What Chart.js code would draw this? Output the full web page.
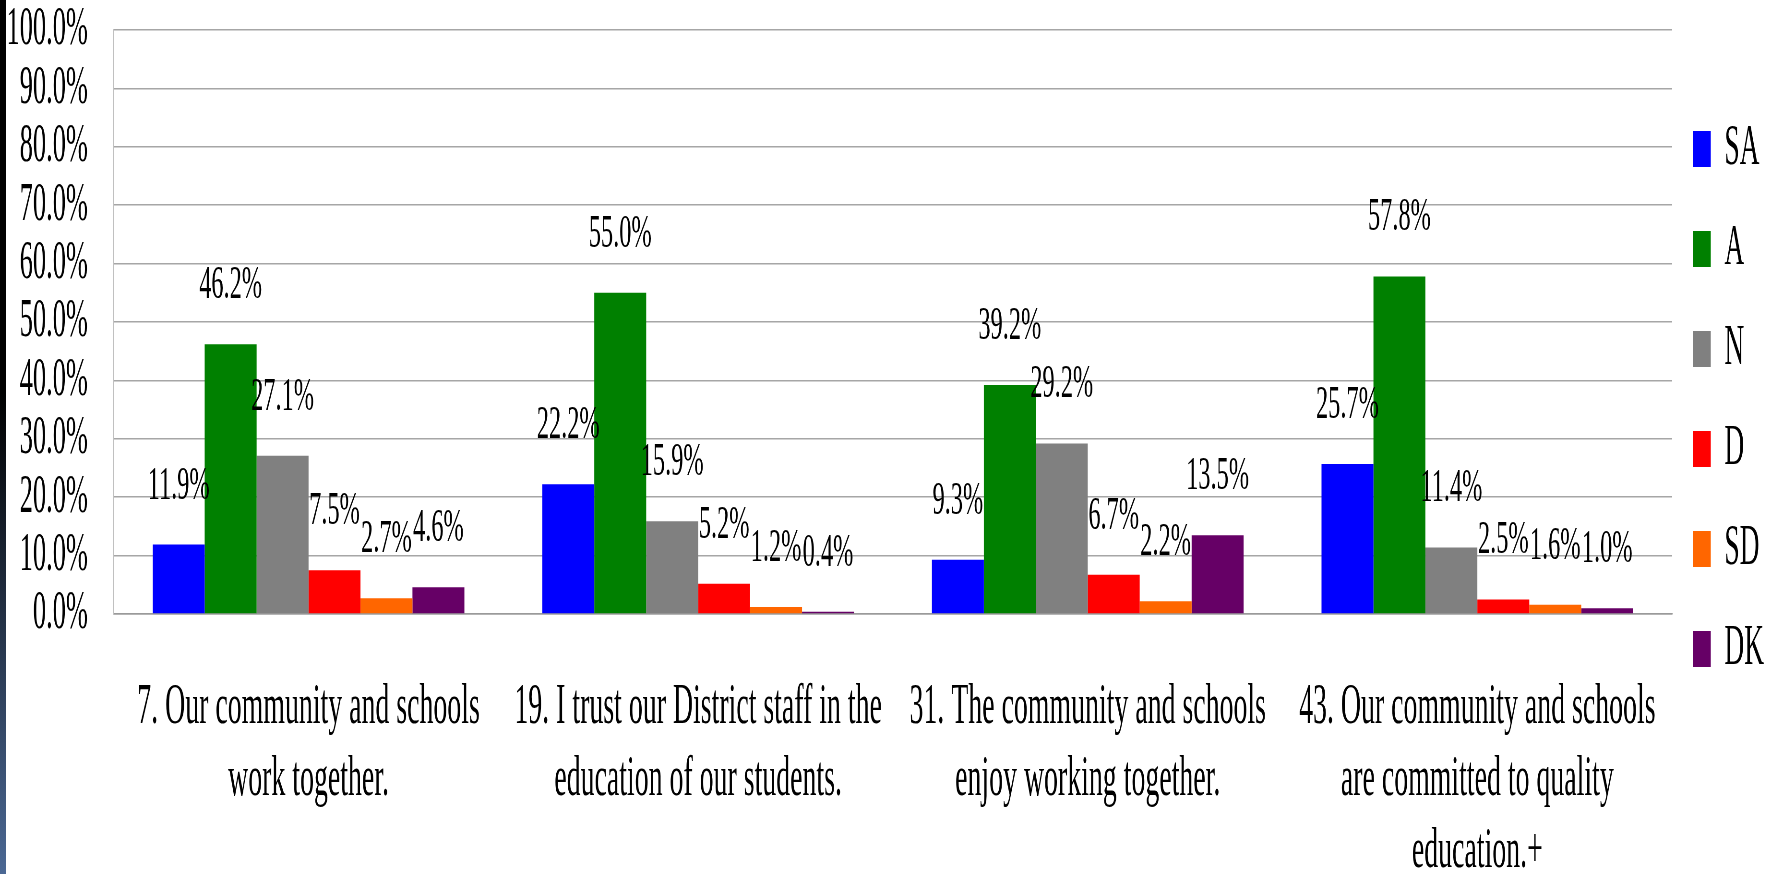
<!DOCTYPE html>
<html>
<head>
<meta charset="utf-8">
<title>Community and schools</title>
<script src="https://cdn.jsdelivr.net/npm/chart.js@4.4.1/dist/chart.umd.min.js"></script>
<style>
  html, body { margin: 0; padding: 0; background: #fff; overflow: hidden; }
  #wrap { position: relative; width: 1771px; height: 874px; }
  #faixa {
    position: absolute; left: 0; top: 0; width: 6px; height: 874px; z-index: 2;
    background: linear-gradient(#000 0%, #000 45%, #4b6894 100%);
  }
  /* canvas drawn wide and squeezed to get the condensed serif look */
  #grafico { position: absolute; left: 0; top: 0; width: 1771px; height: 874px; }
</style>
</head>
<body>
<div id="wrap">
  <div id="faixa"></div>
  <canvas id="grafico" width="3690" height="874" style="width:1771px;height:874px"></canvas>
</div>
<script>
const categorias = [
  ['7. Our community and schools', 'work together.'],
  ['19. I trust our District staff in the', 'education of our students.'],
  ['31. The community and schools', 'enjoy working together.'],
  ['43. Our community and schools', 'are committed to quality', 'education.+']
];

const valoresSA = [11.9, 22.2, 9.3, 25.7];
const valoresA  = [46.2, 55.0, 39.2, 57.8];
const valoresN  = [27.1, 15.9, 29.2, 11.4];
const valoresD  = [7.5, 5.2, 6.7, 2.5];
const valoresSD = [2.7, 1.2, 2.2, 1.6];
const valoresDK = [4.6, 0.4, 13.5, 1.0];

const series = ['SA', 'A', 'N', 'D', 'SD', 'DK'];
const cores = ['#0000FF', '#008000', '#808080', '#FF0000', '#FF6600', '#660066'];
const valores = [valoresSA, valoresA, valoresN, valoresD, valoresSD, valoresDK];

const fonte = '"Liberation Serif", "Times New Roman", serif';

// rótulos de valor acima das barras
const rotulosValor = {
  id: 'rotulosValor',
  afterDatasetsDraw(chart) {
    const ctx = chart.ctx;
    chart.data.datasets.forEach((ds, i) => {
      chart.getDatasetMeta(i).data.forEach((barra, j) => {
        ctx.save();
        ctx.font = `47px ${fonte}`;
        ctx.fillStyle = '#000';
        ctx.textAlign = 'center';
        ctx.textBaseline = 'alphabetic';
        ctx.translate(barra.x, barra.y - 46);
        ctx.scale(1.08, 1); // um pouco menos condensado que o resto
        ctx.fillText(ds.data[j].toFixed(1) + '%', 0, 0);
        ctx.restore();
      });
    });
  }
};

// largura fixa da legenda para o gráfico terminar no mesmo ponto
const larguraLegenda = {
  id: 'larguraLegenda',
  beforeInit(chart) {
    const fitOriginal = chart.legend.fit;
    chart.legend.fit = function () {
      fitOriginal.bind(chart.legend)();
      this.width = 206;
    };
  }
};

const ctx = document.getElementById('grafico').getContext('2d');

new Chart(ctx, {
  type: 'bar',
  data: {
    labels: categorias,
    datasets: series.map((nome, i) => ({
      label: nome,
      data: valores[i],
      backgroundColor: cores[i],
      borderWidth: 0,
      categoryPercentage: 0.8,
      barPercentage: 1.0
    }))
  },
  options: {
    responsive: false,
    animation: false,
    devicePixelRatio: 1,
    layout: { padding: { top: 30, bottom: 0, left: 0, right: 0 } },
    plugins: {
      legend: {
        position: 'right',
        align: 'start',
        // título vazio só para empurrar a legenda para baixo
        title: { display: true, text: ' ', font: { size: 10, lineHeight: 1 }, padding: { top: 37.5, bottom: 0 } },
        labels: {
          boxWidth: 37.5,
          boxHeight: 36,
          padding: 43,
          color: '#000',
          font: { family: fonte, size: 57 }
        }
      },
      tooltip: { enabled: false }
    },
    scales: {
      x: {
        grid: { display: false },
        border: { display: true, color: '#9a9a9a', width: 1.5 },
        ticks: {
          color: '#000',
          padding: 50,
          autoSkip: false,
          maxRotation: 0,
          minRotation: 0,
          font: { family: fonte, size: 58, lineHeight: 1.24 }
        },
        afterFit(escala) { escala.height = 260; }
      },
      y: {
        min: 0,
        max: 100,
        grid: { color: '#a6a6a6', lineWidth: 1.5, drawTicks: false },
        border: { display: true, color: '#bcbcbc', width: 2 },
        ticks: {
          stepSize: 10,
          autoSkip: false,
          color: '#000',
          padding: 54,
          font: { family: fonte, size: 55, lineHeight: 1 },
          callback: v => v.toFixed(1) + '%'
        },
        afterFit(escala) {
          escala.width = 237;
          escala.paddingTop = 28;
          escala.paddingBottom = 28;
        }
      }
    }
  },
  plugins: [rotulosValor, larguraLegenda]
});
</script>
</body>
</html>
